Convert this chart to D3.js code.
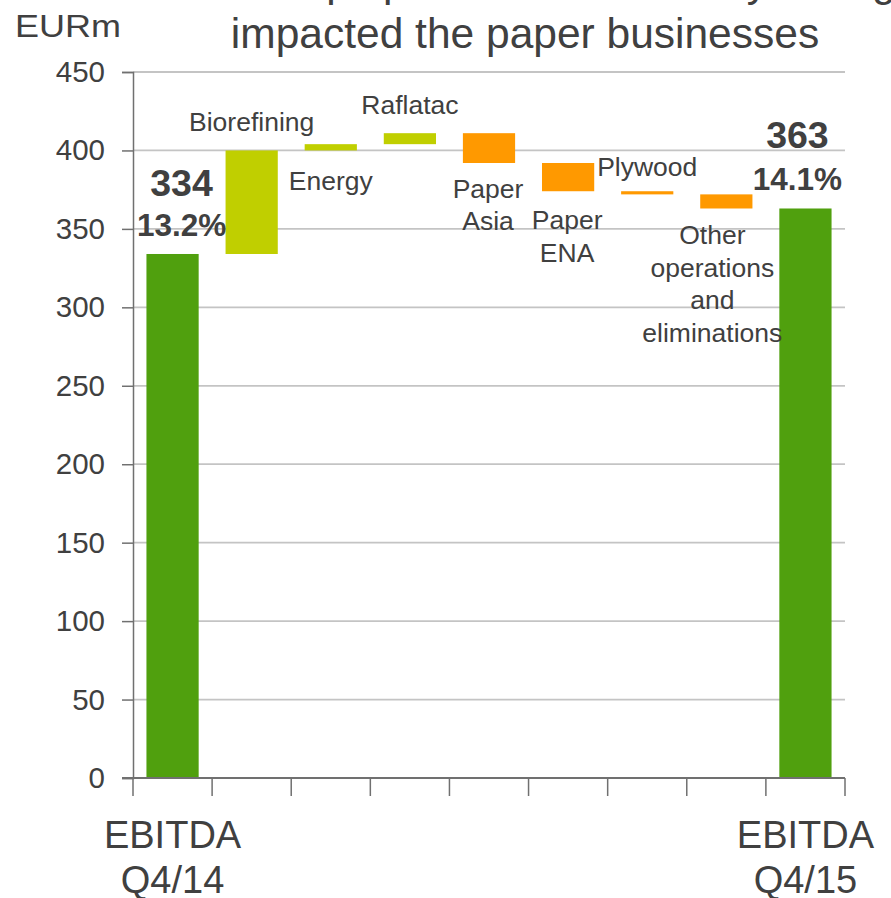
<!DOCTYPE html>
<html>
<head>
<meta charset="utf-8">
<script src="https://cdn.jsdelivr.net/npm/d3@7"></script>
<style>
  html, body { margin: 0; padding: 0; background: #fff; }
  svg { display: block; font-family: "Liberation Sans", Arial, sans-serif; }
</style>
</head>
<body>
<svg id="chart" width="891" height="898"></svg>
<script>
// ---- data ----
const categories = ["EBITDA Q4/14", "Biorefining", "Energy", "Raflatac", "Paper Asia", "Paper ENA", "Plywood", "Other operations and eliminations", "EBITDA Q4/15"];
const kinds      = ["total", "delta", "delta", "delta", "delta", "delta", "delta", "delta", "total"];
const values     = [334, 66, 4, 7, -19, -18, -2, -9, 363];
const margins    = ["13.2%", null, null, null, null, null, null, null, "14.1%"];
const yTicks     = [0, 50, 100, 150, 200, 250, 300, 350, 400, 450];
const titleLines = ["Solid pulp result but currency changes", "impacted the paper businesses"];

(function () {
// ---- build waterfall ----
let run = 0;
const bars = categories.map((c, i) => {
  let y0, y1;
  if (kinds[i] === "total") { y0 = 0; y1 = values[i]; run = values[i]; }
  else { y0 = run; y1 = run + values[i]; run = y1; }
  return { cat: c, kind: kinds[i], v: values[i], lo: Math.min(y0, y1), hi: Math.max(y0, y1), i };
});

const svg = d3.select("#chart");
const pl = 133, pr = 845, pt = 72, pb = 778;
const x = d3.scaleBand().domain(categories).range([pl, pr]).paddingInner(0.34).paddingOuter(0.17);
const xb = d3.scaleBand().domain(categories).range([pl, pr]).padding(0);
const y = d3.scaleLinear().domain([0, 450]).range([pb, pt]);

const textCol = "#404040";
const color = d => d.kind === "total" ? "#50a00e" : (d.v >= 0 ? "#c0cf00" : "#ff9900");

// gridlines
svg.append("g").selectAll("line").data(yTicks.filter(t => t > 0)).join("line")
  .attr("x1", pl).attr("x2", pr)
  .attr("y1", d => y(d)).attr("y2", d => y(d))
  .attr("stroke", "#c4c4c4").attr("stroke-width", 1.8);

// bars
svg.append("g").selectAll("rect").data(bars).join("rect")
  .attr("x", d => x(d.cat))
  .attr("width", x.bandwidth())
  .attr("y", d => y(d.hi))
  .attr("height", d => Math.max(2.5, y(d.lo) - y(d.hi)))
  .attr("fill", color);

// y axis
const yAxis = d3.axisLeft(y).tickValues(yTicks).tickSize(11).tickPadding(17);
const gy = svg.append("g").attr("transform", `translate(${pl},0)`).call(yAxis);
gy.select(".domain").attr("stroke", "#707070").attr("stroke-width", 1.5);
gy.selectAll(".tick line").attr("stroke", "#707070").attr("stroke-width", 1.5);
gy.selectAll(".tick text").attr("fill", textCol).attr("font-size", 29.5).attr("font-family", "Liberation Sans, Arial, sans-serif");

// x axis (ticks at band boundaries)
const bounds = categories.map(c => xb(c)).concat([pr]);
const gx = svg.append("g");
gx.append("line").attr("x1", pl - 11).attr("x2", pr).attr("y1", pb).attr("y2", pb)
  .attr("stroke", "#707070").attr("stroke-width", 2);
gx.selectAll("line.t").data(bounds).join("line").attr("class", "t")
  .attr("x1", d => d).attr("x2", d => d).attr("y1", pb).attr("y2", pb + 18)
  .attr("stroke", "#707070").attr("stroke-width", 1.5);

// x category labels for totals
const totalLabels = [["EBITDA", "Q4/14"], ["EBITDA", "Q4/15"]];
bars.filter(d => d.kind === "total").forEach((d, k) => {
  const cx = xb(d.cat) + xb.bandwidth() / 2;
  totalLabels[k].forEach((t, j) => {
    svg.append("text").attr("x", cx).attr("y", pb + 70 + j * 45)
      .attr("text-anchor", "middle").attr("fill", textCol).attr("font-size", 38).text(t);
  });
});

// delta labels
const labelSpec = {
  "Biorefining": { lines: ["Biorefining"], pos: "above", dy: -19, dx: 0 },
  "Energy": { lines: ["Energy"], pos: "below", dy: 40, dx: 0 },
  "Raflatac": { lines: ["Raflatac"], pos: "above", dy: -19, dx: 0 },
  "Paper Asia": { lines: ["Paper", "Asia"], pos: "below", dy: 35, dx: -1 },
  "Paper ENA": { lines: ["Paper", "ENA"], pos: "below", dy: 38, dx: -1 },
  "Plywood": { lines: ["Plywood"], pos: "above", dy: -15, dx: 0 },
  "Other operations and eliminations": { lines: ["Other", "operations", "and", "eliminations"], pos: "below", dy: 36, dx: -14 }
};
bars.filter(d => d.kind === "delta").forEach(d => {
  const s = labelSpec[d.cat];
  const cx = x(d.cat) + x.bandwidth() / 2 + s.dx;
  const base = (s.pos === "above" ? y(d.hi) : y(d.lo)) + s.dy;
  s.lines.forEach((t, j) => {
    svg.append("text").attr("x", cx).attr("y", base + j * 32.5)
      .attr("text-anchor", "middle").attr("fill", textCol).attr("font-size", 26.5).text(t);
  });
});

// total value labels
const totalVal = [{ dx: 9, dyV: -58, dyP: -18 }, { dx: -8, dyV: -60, dyP: -18 }];
bars.filter(d => d.kind === "total").forEach((d, k) => {
  const cx = x(d.cat) + x.bandwidth() / 2 + totalVal[k].dx;
  svg.append("text").attr("x", cx).attr("y", y(d.hi) + totalVal[k].dyV)
    .attr("text-anchor", "middle").attr("fill", textCol).attr("font-size", 37.5).attr("font-weight", "bold").text(d.v);
  svg.append("text").attr("x", cx).attr("y", y(d.hi) + totalVal[k].dyP)
    .attr("text-anchor", "middle").attr("fill", textCol).attr("font-size", 31.5).attr("font-weight", "bold").text(margins[d.i]);
});

// unit label
svg.append("text").attr("x", 15).attr("y", 37).attr("fill", textCol).attr("font-size", 31)
  .attr("textLength", 106).attr("lengthAdjust", "spacingAndGlyphs").text("EURm");

// title (first line clipped at top, as in the original slide)
svg.append("text").attr("x", 220).attr("y", -4).attr("fill", textCol).attr("font-size", 42.5).text(titleLines[0]);
svg.append("text").attr("x", 525).attr("y", 48).attr("text-anchor", "middle").attr("fill", textCol).attr("font-size", 42.5).text(titleLines[1]);
})();
</script>
</body>
</html>
